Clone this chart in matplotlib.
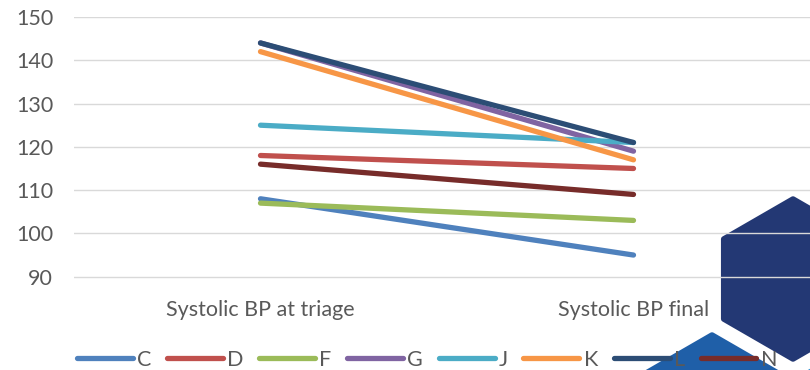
import matplotlib
matplotlib.use("Agg")
import matplotlib.pyplot as plt
from matplotlib.patches import RegularPolygon

# systolic blood pressure per patient, at triage and at the end
categories = ["Systolic BP at triage", "Systolic BP final"]
patients = ["C", "D", "F", "G", "J", "K", "L", "N"]
bp_triage = [108, 118, 107, 144, 125, 142, 144, 116]
bp_final = [95, 115, 103, 119, 121, 117, 121, 109]
colors = ["#4F81BD", "#C0504D", "#9BBB59", "#8064A2",
          "#4BACC6", "#F79646", "#2C4D75", "#772C2A"]
yticks = [90, 100, 110, 120, 130, 140, 150]

plt.rcParams['font.family'] = ['Lato', 'DejaVu Sans']
text_col = "#595959"
fs = 15.5

W, H = 810, 370
fig = plt.figure(figsize=(W / 100, H / 100), dpi=100)

# background decoration: honeycomb hexagons in the lower right corner
bg = fig.add_axes([0, 0, 1, 1], zorder=0)
bg.set_xlim(0, W)
bg.set_ylim(H, 0)
bg.axis("off")
for cx, cy, fc in [(793, 279, "#233874"), (712, 415, "#1F5FA8"), (874, 415, "#2E8FD0")]:
    hexagon = RegularPolygon((cx, cy), numVertices=6, radius=80, orientation=0,
                             facecolor=fc, edgecolor=fc, linewidth=4, joinstyle="round")
    bg.add_patch(hexagon)

# main chart, wider than the figure on the right
ax = fig.add_axes([74 / W, (H - 294) / H, 746 / W, 277 / H], zorder=1)
ax.set_facecolor("none")

x = list(range(len(categories)))
for name, a, b, c in zip(patients, bp_triage, bp_final, colors):
    ax.plot(x, [a, b], color=c, lw=3.8, solid_capstyle="round", label=name)

ax.set_xlim(-0.5, 1.5)
ax.set_ylim(86, 150)
ax.set_yticks(yticks)
ax.set_xticks(x)
ax.set_xticklabels(categories)
ax.grid(axis="y", color="#D9D9D9", lw=1.0)
ax.set_axisbelow(True)
for s in ax.spines.values():
    s.set_visible(False)
ax.tick_params(axis="both", length=0, labelsize=fs, colors=text_col)
ax.tick_params(axis="y", pad=15)
ax.tick_params(axis="x", pad=4)

leg = fig.legend(loc="center", bbox_to_anchor=(427 / W, 1 - 360 / H), ncol=8,
                 frameon=False, fontsize=fs, handlelength=2.6, handletextpad=0.2,
                 columnspacing=0.72, labelcolor=text_col)
for line in leg.get_lines():
    line.set_solid_capstyle("round")
    line.set_linewidth(3.8)

fig.savefig("out.png", dpi=100)
